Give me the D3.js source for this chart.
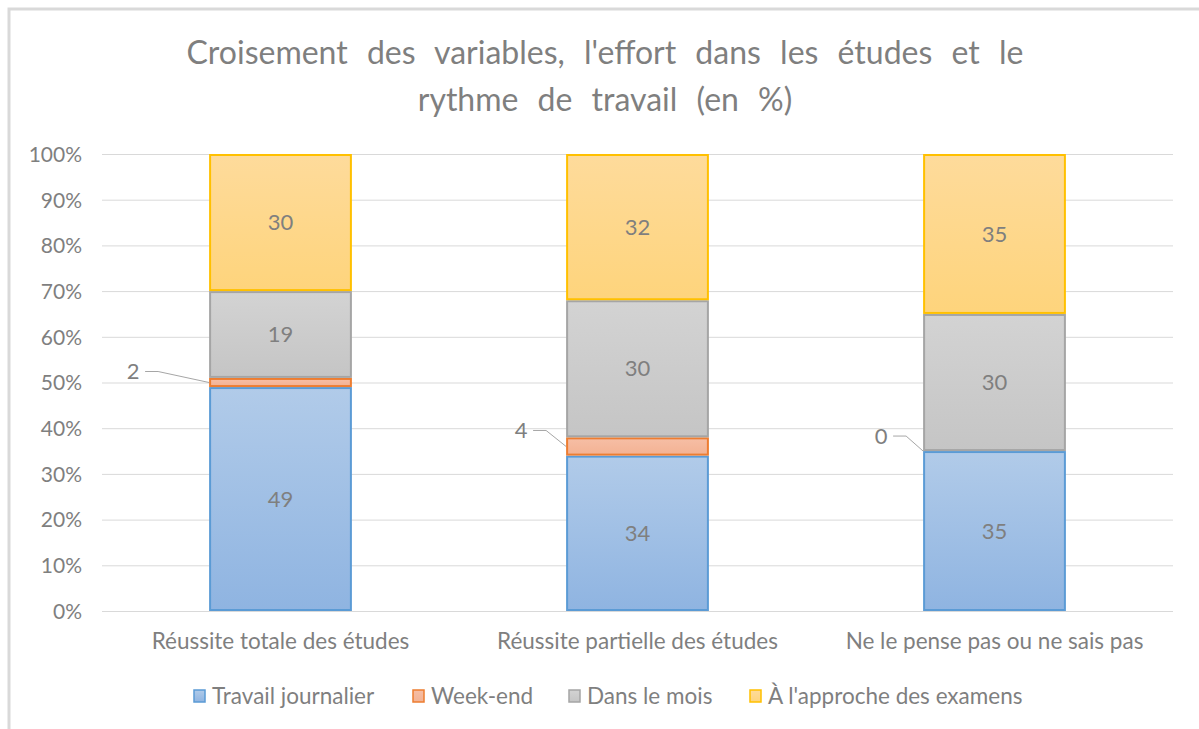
<!DOCTYPE html>
<meta charset="utf-8">
<style>
body { margin: 0; background: #fff; }
svg text { font-family: Lato, "Open Sans", sans-serif; fill: #7f7f7f; }
.tick text { font-size: 21px; }
.grid line { stroke: #d9d9d9; stroke-width: 1px; }
.lbl { font-size: 22px; text-anchor: middle; }
.leader { stroke: #a6a6a6; stroke-width: 1px; fill: none; }
</style>
<svg width="1199" height="729"></svg>
<script src="https://cdn.jsdelivr.net/npm/d3@7"></script>
<script>

var categories = ["Réussite totale des études", "Réussite partielle des études", "Ne le pense pas ou ne sais pas"];
var seriesNames = ["Travail journalier", "Week-end", "Dans le mois", "À l'approche des examens"];
var travail = [49, 34, 35];
var weekend = [2, 4, 0];
var mois = [19, 30, 30];
var examens = [30, 32, 35];
var yTicks = [0, 10, 20, 30, 40, 50, 60, 70, 80, 90, 100];

var strokes = ["#5b9bd5", "#ed7d31", "#a5a5a5", "#ffc000"];
var gradTop = ["#b1cbe9", "#f6bea5", "#d3d3d3", "#fedb9b"];
var gradBot = ["#8fb4e1", "#f3b293", "#c5c5c5", "#fed47c"];

var svg = d3.select("svg");

// frame like the excel chart area
svg.append("rect").attr("x", 9).attr("y", 9).attr("width", 1300).attr("height", 800)
    .attr("fill", "#fff").attr("stroke", "#d9d9d9").attr("stroke-width", 3);

var defs = svg.append("defs");
seriesNames.forEach(function(s, i) {
    var g = defs.append("linearGradient").attr("id", "grad" + i)
        .attr("x1", 0).attr("y1", 0).attr("x2", 0).attr("y2", 1);
    g.append("stop").attr("offset", "0%").attr("stop-color", gradTop[i]);
    g.append("stop").attr("offset", "100%").attr("stop-color", gradBot[i]);
});

var plotLeft = 102, plotRight = 1173, plotTop = 154, plotBottom = 611;

var x = d3.scaleBand().domain(categories).range([plotLeft, plotRight])
    .paddingInner(0.6).paddingOuter(0.3);
var y = d3.scaleLinear().domain([0, 100]).range([plotBottom, plotTop]);

// title
var title = svg.append("text").attr("text-anchor", "middle")
    .style("font-size", "32px").style("word-spacing", "11px");
title.append("tspan").attr("x", 605).attr("y", 64).text("Croisement des variables, l'effort dans les études et le");
title.append("tspan").attr("x", 605).attr("y", 111).text("rythme de travail (en %)");

// grid
svg.append("g").attr("class", "grid").selectAll("line").data(yTicks).enter()
    .append("line")
    .attr("x1", plotLeft).attr("x2", plotRight)
    .attr("y1", function(d) { return y(d) + 0.5; })
    .attr("y2", function(d) { return y(d) + 0.5; });

var yAxis = svg.append("g").attr("class", "y-axis")
    .attr("transform", "translate(" + (plotLeft - 20) + ",0)")
    .call(d3.axisLeft(y).tickValues(yTicks).tickSize(0).tickPadding(0)
        .tickFormat(function(d) { return d + "%"; }));
yAxis.select(".domain").remove();
yAxis.selectAll("text").attr("dy", "0.35em");

var xAxis = svg.append("g").attr("class", "x-axis")
    .attr("transform", "translate(0," + plotBottom + ")")
    .call(d3.axisBottom(x).tickSize(0).tickPadding(22));
xAxis.select(".domain").remove();
xAxis.selectAll("text").style("font-size", "22.5px");

var rows = categories.map(function(c, i) {
    return { cat: c, s0: travail[i], s1: weekend[i], s2: mois[i], s3: examens[i] };
});
var stack = d3.stack().keys(["s0", "s1", "s2", "s3"]);
var layers = stack(rows);

var bars = svg.append("g");
layers.forEach(function(layer, si) {
    bars.selectAll(".seg" + si).data(layer).enter()
        .append("rect")
        .attr("x", function(d) { return x(d.data.cat) + 1; })
        .attr("width", x.bandwidth() - 2)
        .attr("y", function(d) { return y(d[1]) + 1; })
        .attr("height", function(d) { return Math.max(0, y(d[0]) - y(d[1]) - 2); })
        .attr("fill", "url(#grad" + si + ")")
        .attr("stroke", strokes[si])
        .attr("stroke-width", 2)
        .style("display", function(d) { return d[1] - d[0] > 0 ? null : "none"; });
});

// data labels
var labels = svg.append("g");
// leader-line label offsets for the week-end series (dx from bar left, dy from segment middle)
var leaderOffsets = [[-76, -11], [-45, -16], [-42, -15]];
layers.forEach(function(layer, si) {
    layer.forEach(function(d, ci) {
        var v = d[1] - d[0];
        var mid = (y(d[0]) + y(d[1])) / 2;
        if (si === 1) {
            var bx = x(d.data.cat);
            var o = leaderOffsets[ci];
            var tx = bx + o[0], ty = mid + o[1];
            labels.append("text").attr("class", "lbl").attr("x", tx).attr("y", ty)
                .attr("dy", "0.35em").text(v);
            labels.append("path").attr("class", "leader")
                .attr("d", "M" + (tx + 12) + "," + ty + "H" + (tx + 25) + "L" + bx + "," + mid);
        } else {
            labels.append("text").attr("class", "lbl")
                .attr("x", x(d.data.cat) + x.bandwidth() / 2).attr("y", mid)
                .attr("dy", "0.35em").text(v);
        }
    });
});

// legend
var legendX = [193, 412, 568, 749];
var legend = svg.append("g");
seriesNames.forEach(function(s, i) {
    legend.append("rect").attr("x", legendX[i] + 1).attr("y", 690).attr("width", 11).attr("height", 12)
        .attr("fill", "url(#grad" + i + ")").attr("stroke", strokes[i]).attr("stroke-width", 1.5);
    legend.append("text").attr("x", legendX[i] + 19).attr("y", 696).attr("dy", "0.35em")
        .style("font-size", "22.5px").text(s);
});

</script>
